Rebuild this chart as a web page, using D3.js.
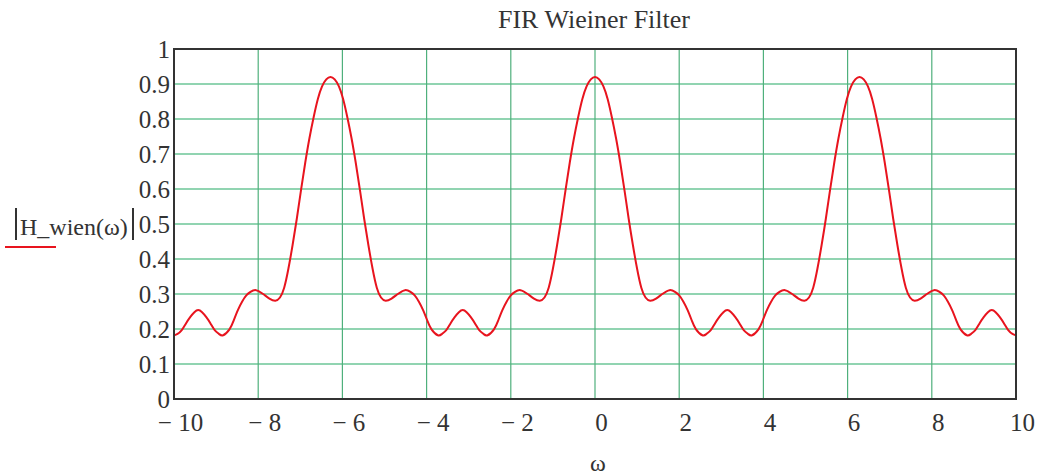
<!DOCTYPE html>
<html>
<head>
<meta charset="utf-8">
<script src="https://cdn.jsdelivr.net/npm/d3@7/dist/d3.min.js"></script>
<style>
  html, body { margin: 0; padding: 0; background: #ffffff; }
  svg { display: block; }
  text { font-family: "Liberation Serif", "Times New Roman", serif; fill: #333333; }
</style>
</head>
<body>
<svg id="chart" width="1038" height="475"></svg>
<script>
// Frequency samples (rad/sample) and the filter's magnitude response |H_wien(ω)|
const omega = [
  -10.000, -9.916, -9.816, -9.716, -9.616, -9.516, -9.425,
  -9.333, -9.233, -9.133, -9.033, -8.933, -8.833, -8.683, -8.583, -8.483, -8.383,
  -8.283, -8.183, -8.053, -7.883, -7.733, -7.593, -7.483, -7.383, -7.283, -7.183,
  -7.083, -6.983, -6.883, -6.783, -6.683, -6.583, -6.483, -6.383, -6.283,
  -6.183, -6.083, -5.983, -5.883, -5.783, -5.683, -5.583, -5.483, -5.383, -5.283,
  -5.183, -5.083, -4.973, -4.833, -4.683, -4.513, -4.383, -4.283, -4.183, -4.083,
  -3.983, -3.883, -3.733, -3.633, -3.533, -3.433, -3.333, -3.233, -3.142,
  -3.050, -2.950, -2.850, -2.750, -2.650, -2.550, -2.400, -2.300, -2.200, -2.100,
  -2.000, -1.900, -1.770, -1.600, -1.450, -1.310, -1.200, -1.100, -1.000, -0.900,
  -0.800, -0.700, -0.600, -0.500, -0.400, -0.300, -0.200, -0.100, 0.000,
  0.100, 0.200, 0.300, 0.400, 0.500, 0.600, 0.700, 0.800, 0.900, 1.000,
  1.100, 1.200, 1.310, 1.450, 1.600, 1.770, 1.900, 2.000, 2.100, 2.200,
  2.300, 2.400, 2.550, 2.650, 2.750, 2.850, 2.950, 3.050, 3.142,
  3.233, 3.333, 3.433, 3.533, 3.633, 3.733, 3.883, 3.983, 4.083, 4.183,
  4.283, 4.383, 4.513, 4.683, 4.833, 4.973, 5.083, 5.183, 5.283, 5.383,
  5.483, 5.583, 5.683, 5.783, 5.883, 5.983, 6.083, 6.183, 6.283,
  6.383, 6.483, 6.583, 6.683, 6.783, 6.883, 6.983, 7.083, 7.183, 7.283,
  7.383, 7.483, 7.593, 7.733, 7.883, 8.053, 8.183, 8.283, 8.383, 8.483,
  8.583, 8.683, 8.833, 8.933, 9.033, 9.133, 9.233, 9.333, 9.425,
  9.516, 9.616, 9.716, 9.816, 9.916, 10.000
];
const magnitude = [
  0.182, 0.186, 0.197, 0.216, 0.234, 0.248, 0.254,
  0.248, 0.234, 0.216, 0.197, 0.186, 0.182, 0.199, 0.224, 0.254, 0.278,
  0.296, 0.306, 0.311, 0.300, 0.287, 0.281, 0.290, 0.318, 0.372, 0.440,
  0.515, 0.597, 0.675, 0.745, 0.805, 0.857, 0.893, 0.913, 0.920,
  0.913, 0.893, 0.857, 0.805, 0.745, 0.675, 0.597, 0.515, 0.440, 0.372,
  0.318, 0.290, 0.281, 0.287, 0.300, 0.311, 0.306, 0.296, 0.278, 0.254,
  0.224, 0.199, 0.182, 0.186, 0.197, 0.216, 0.234, 0.248, 0.254,
  0.248, 0.234, 0.216, 0.197, 0.186, 0.182, 0.199, 0.224, 0.254, 0.278,
  0.296, 0.306, 0.311, 0.300, 0.287, 0.281, 0.290, 0.318, 0.372, 0.440,
  0.515, 0.597, 0.675, 0.745, 0.805, 0.857, 0.893, 0.913, 0.920,
  0.913, 0.893, 0.857, 0.805, 0.745, 0.675, 0.597, 0.515, 0.440, 0.372,
  0.318, 0.290, 0.281, 0.287, 0.300, 0.311, 0.306, 0.296, 0.278, 0.254,
  0.224, 0.199, 0.182, 0.186, 0.197, 0.216, 0.234, 0.248, 0.254,
  0.248, 0.234, 0.216, 0.197, 0.186, 0.182, 0.199, 0.224, 0.254, 0.278,
  0.296, 0.306, 0.311, 0.300, 0.287, 0.281, 0.290, 0.318, 0.372, 0.440,
  0.515, 0.597, 0.675, 0.745, 0.805, 0.857, 0.893, 0.913, 0.920,
  0.913, 0.893, 0.857, 0.805, 0.745, 0.675, 0.597, 0.515, 0.440, 0.372,
  0.318, 0.290, 0.281, 0.287, 0.300, 0.311, 0.306, 0.296, 0.278, 0.254,
  0.224, 0.199, 0.182, 0.186, 0.197, 0.216, 0.234, 0.248, 0.254,
  0.248, 0.234, 0.216, 0.197, 0.186, 0.182
];

const xTicks = [-10, -8, -6, -4, -2, 0, 2, 4, 6, 8, 10];
const yTicks = [0, 0.1, 0.2, 0.3, 0.4, 0.5, 0.6, 0.7, 0.8, 0.9, 1];
const titleText = "FIR Wieiner Filter";
const xLabel = "ω";
const yLabel = "H_wien(ω)";

const svg = d3.select("#chart");
const plotL = 174, plotR = 1016, plotT = 49, plotB = 399;

const x = d3.scaleLinear().domain([-10, 10]).range([plotL, plotR]);
const y = d3.scaleLinear().domain([0, 1]).range([plotB, plotT]);

// Grid
const grid = svg.append("g");
grid.selectAll("line.h").data(yTicks.slice(1, -1)).join("line")
  .attr("class", "h")
  .attr("x1", plotL).attr("x2", plotR)
  .attr("y1", d => y(d)).attr("y2", d => y(d))
  .attr("stroke", "#6cc697").attr("stroke-width", 1.6);
grid.selectAll("line.v").data(xTicks.slice(1, -1)).join("line")
  .attr("class", "v")
  .attr("y1", plotT).attr("y2", plotB)
  .attr("x1", d => x(d)).attr("x2", d => x(d))
  .attr("stroke", "#4fb07c").attr("stroke-width", 1.2);

// Curve
svg.append("clipPath").attr("id", "plot-clip")
  .append("rect").attr("x", plotL).attr("y", plotT)
  .attr("width", plotR - plotL).attr("height", plotB - plotT);

const pts = omega.map((w, i) => [w, magnitude[i]]);
const line = d3.line()
  .x(d => x(d[0])).y(d => y(d[1]))
  .curve(d3.curveNatural);

svg.append("path")
  .attr("clip-path", "url(#plot-clip)")
  .attr("d", line(pts))
  .attr("fill", "none")
  .attr("stroke", "#e8141e")
  .attr("stroke-width", 2);

// Frame
svg.append("rect")
  .attr("x", plotL).attr("y", plotT)
  .attr("width", plotR - plotL).attr("height", plotB - plotT)
  .attr("fill", "none").attr("stroke", "#333333").attr("stroke-width", 2);

// Tick labels
const fmtX = d => d < 0 ? "\u2212 " + Math.abs(d) : String(d);
const xAxis = d3.axisBottom(x).tickValues(xTicks).tickSize(0).tickPadding(0).tickFormat(fmtX);
const gx = svg.append("g").attr("transform", `translate(6,${plotB})`).call(xAxis);
gx.select(".domain").remove();
gx.selectAll("text")
  .attr("y", 32).attr("dy", null)
  .style("font-family", '"Liberation Serif", serif')
  .style("font-size", "25px").attr("fill", "#333333");

const fmtY = d => d === 0 ? "0" : d === 1 ? "1" : d3.format(".1f")(d);
const yAxis = d3.axisLeft(y).tickValues(yTicks).tickSize(0).tickPadding(4).tickFormat(fmtY);
const gy = svg.append("g").attr("transform", `translate(${plotL},0)`).call(yAxis);
gy.select(".domain").remove();
gy.selectAll("text")
  .attr("dy", "0.34em")
  .style("font-family", '"Liberation Serif", serif')
  .style("font-size", "25px").attr("fill", "#333333");

// Title
svg.append("text")
  .attr("x", 594).attr("y", 28)
  .attr("text-anchor", "middle")
  .style("font-size", "26px")
  .text(titleText);

// X axis title
svg.append("text")
  .attr("x", 598).attr("y", 471)
  .attr("text-anchor", "middle")
  .style("font-size", "24px")
  .text(xLabel);

// Y axis title with magnitude bars and trace key
svg.append("text")
  .attr("x", 20).attr("y", 235)
  .style("font-size", "24px")
  .text(yLabel);
svg.append("line").attr("x1", 16).attr("x2", 16).attr("y1", 208).attr("y2", 240)
  .attr("stroke", "#333333").attr("stroke-width", 2);
svg.append("line").attr("x1", 133).attr("x2", 133).attr("y1", 208).attr("y2", 240)
  .attr("stroke", "#333333").attr("stroke-width", 2);
svg.append("line").attr("x1", 5).attr("x2", 56).attr("y1", 247).attr("y2", 247)
  .attr("stroke", "#e8141e").attr("stroke-width", 2);
</script>
</body>
</html>
